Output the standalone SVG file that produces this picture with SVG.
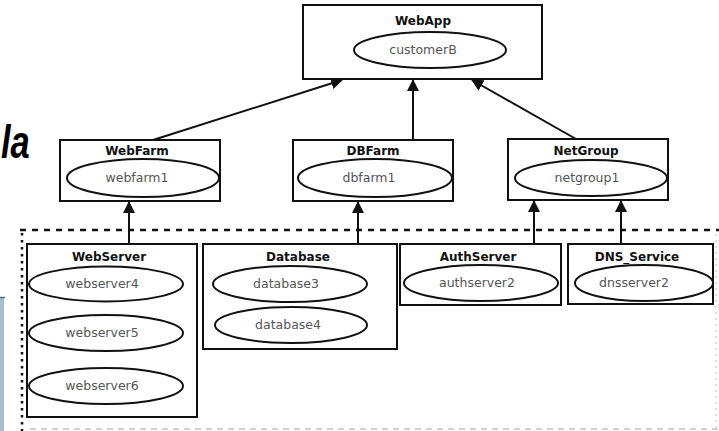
<svg xmlns="http://www.w3.org/2000/svg" width="719" height="431" viewBox="0 0 719 431">
  <style>
    .box { fill: #fff; stroke: #111; stroke-width: 2; }
    .ell { fill: #fff; stroke: #111; stroke-width: 2; }
    .title { font-family: "DejaVu Sans", "Liberation Sans", sans-serif; font-size: 12px; font-weight: bold; fill: #111; text-anchor: middle; }
    .lbl { font-family: "DejaVu Sans", "Liberation Sans", sans-serif; font-size: 12.5px; fill: #555; text-anchor: middle; }
    .edge { stroke: #111; stroke-width: 2; fill: none; marker-end: url(#head); }
  </style>
  <defs>
    <marker id="head" markerUnits="userSpaceOnUse" markerWidth="12" markerHeight="12" refX="11" refY="6" orient="auto">
      <path d="M0,0 L12,6 L0,12 z" fill="#111"/>
    </marker>
  </defs>

  <rect width="719" height="431" fill="#fff"/>

  <!-- left margin: heading fragment and side panel -->
  <text transform="translate(1,158) scale(0.75,1)" x="0" y="0" font-family="Liberation Sans, Arial, sans-serif" font-size="46" font-weight="bold" font-style="italic" fill="#000">la</text>
  <rect x="0" y="297" width="4" height="134" fill="#aabdcc"/>
  <line x1="0" y1="297.5" x2="5" y2="297.5" stroke="#5a6d7d" stroke-width="1.5"/>

  <!-- boundary of the server group -->
  <g id="boundary">
    <line x1="20" y1="230" x2="719" y2="230" stroke="#111" stroke-width="2.5" stroke-dasharray="6 6"/>
    <line x1="22" y1="233" x2="22" y2="431" stroke="#111" stroke-width="2.5" stroke-dasharray="2.5 4.5"/>
    <line x1="716" y1="234" x2="716" y2="431" stroke="#d6d6d6" stroke-width="1.5" stroke-dasharray="2 4"/>
    <line x1="30" y1="429" x2="719" y2="429" stroke="#d0d0d0" stroke-width="2" stroke-dasharray="6 5"/>
  </g>

  <!-- connectors -->
  <g id="connectors">
    <line class="edge" x1="153" y1="140" x2="342" y2="80"/>
    <line class="edge" x1="413" y1="140" x2="413" y2="80"/>
    <line class="edge" x1="576" y1="139" x2="472" y2="80"/>
    <line class="edge" x1="129" y1="244" x2="129" y2="202"/>
    <line class="edge" x1="358" y1="244" x2="358" y2="202"/>
    <line class="edge" x1="534" y1="244" x2="534" y2="201"/>
    <line class="edge" x1="621" y1="244" x2="621" y2="201"/>
  </g>

  <g id="webapp">
    <rect class="box" x="303" y="5" width="239" height="74"/>
    <text class="title" x="423" y="25">WebApp</text>
    <ellipse class="ell" cx="430" cy="50" rx="76" ry="18"/>
    <text class="lbl" x="423" y="54">customerB</text>
  </g>

  <g id="webfarm">
    <rect class="box" x="60" y="140" width="160" height="61"/>
    <text class="title" x="137" y="155">WebFarm</text>
    <ellipse class="ell" cx="143" cy="178" rx="76" ry="19"/>
    <text class="lbl" x="137" y="182">webfarm1</text>
  </g>

  <g id="dbfarm">
    <rect class="box" x="293" y="140" width="160" height="61"/>
    <text class="title" x="373" y="155">DBFarm</text>
    <ellipse class="ell" cx="375" cy="178" rx="77" ry="19"/>
    <text class="lbl" x="369" y="182">dbfarm1</text>
  </g>

  <g id="netgroup">
    <rect class="box" x="508" y="139" width="160" height="61"/>
    <text class="title" x="586" y="155">NetGroup</text>
    <ellipse class="ell" cx="591" cy="178" rx="76" ry="18"/>
    <text class="lbl" x="587" y="182">netgroup1</text>
  </g>

  <g id="webserver">
    <rect class="box" x="27" y="244" width="170" height="173"/>
    <text class="title" x="109" y="261">WebServer</text>
    <ellipse class="ell" cx="106" cy="284" rx="77" ry="17.5"/>
    <text class="lbl" x="102" y="288">webserver4</text>
    <ellipse class="ell" cx="106" cy="333" rx="77" ry="18"/>
    <text class="lbl" x="102" y="337">webserver5</text>
    <ellipse class="ell" cx="106" cy="386" rx="77" ry="18"/>
    <text class="lbl" x="102" y="390">webserver6</text>
  </g>

  <g id="database">
    <rect class="box" x="203" y="244" width="194" height="105"/>
    <text class="title" x="298" y="261">Database</text>
    <ellipse class="ell" cx="290" cy="284" rx="77" ry="18"/>
    <text class="lbl" x="286" y="288">database3</text>
    <ellipse class="ell" cx="291" cy="325" rx="76" ry="18"/>
    <text class="lbl" x="288" y="329">database4</text>
  </g>

  <g id="authserver">
    <rect class="box" x="400" y="244" width="161" height="61"/>
    <text class="title" x="478" y="261">AuthServer</text>
    <ellipse class="ell" cx="481" cy="283" rx="77" ry="18"/>
    <text class="lbl" x="477" y="287">authserver2</text>
  </g>

  <g id="dns-service">
    <rect class="box" x="568" y="244" width="145" height="60"/>
    <text class="title" x="637" y="261">DNS_Service</text>
    <ellipse class="ell" cx="644" cy="283" rx="69" ry="18"/>
    <text class="lbl" x="634" y="287">dnsserver2</text>
  </g>
</svg>
